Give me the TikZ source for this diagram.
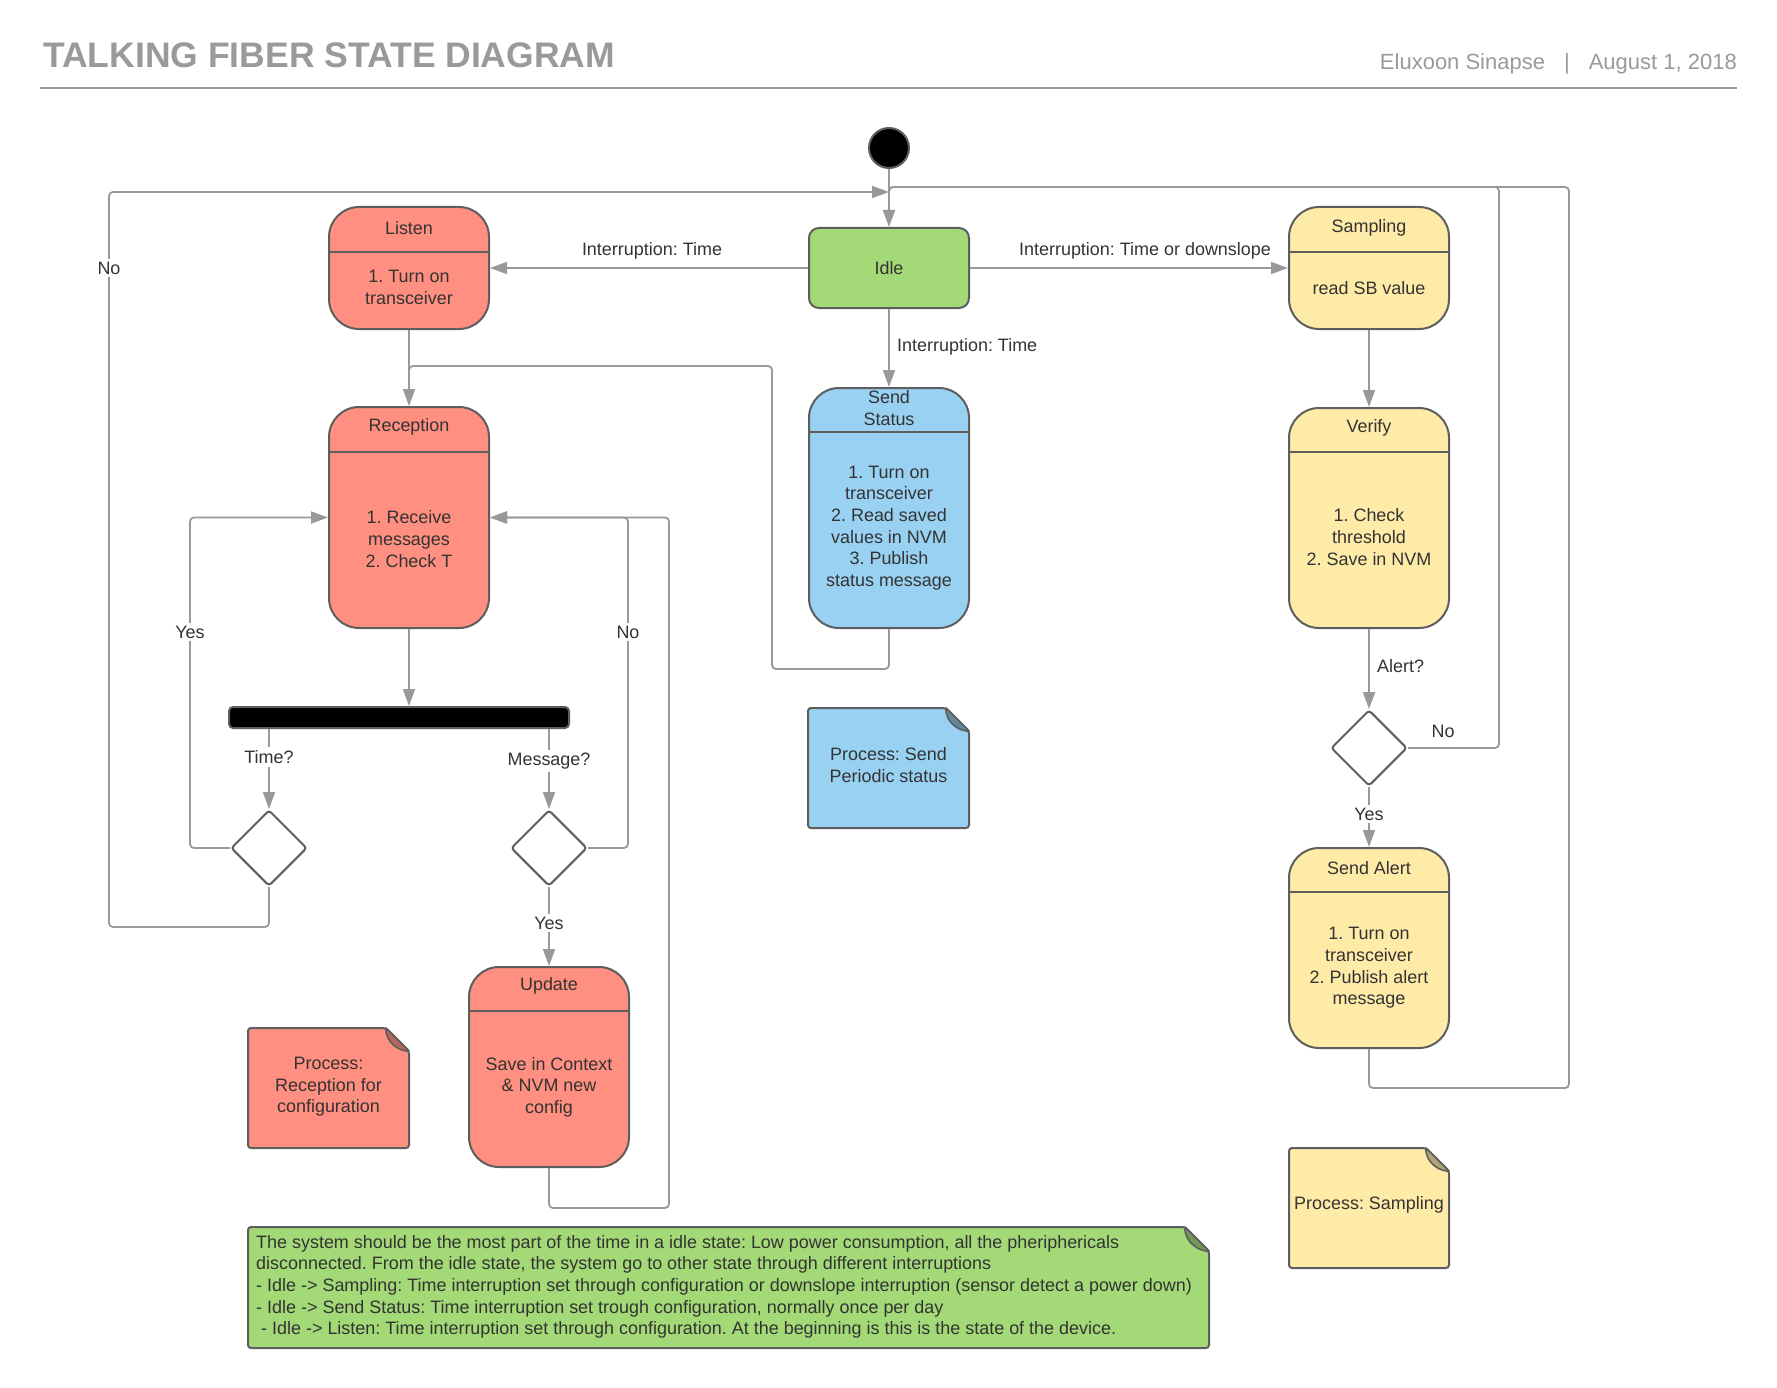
\documentclass[tikz,border=0pt]{standalone}
\usepackage{fontspec}
\setmainfont{Liberation Sans}
\usetikzlibrary{arrows.meta,shapes.geometric}
\frenchspacing

\definecolor{salmon}{HTML}{FF8F80}
\definecolor{leaf}{HTML}{A3D977}
\definecolor{sky}{HTML}{99D1F2}
\definecolor{sand}{HTML}{FFEBA8}
\definecolor{edge}{HTML}{5E5E5E}
\definecolor{wire}{HTML}{999999}
\definecolor{ink}{HTML}{333333}
\definecolor{head}{HTML}{9A9A9A}

\tikzset{
  state/.style = {draw=edge, line width=2pt, rounded corners=30pt,
                  minimum width=160pt, inner sep=0pt},
  divider/.style = {draw=edge, line width=2pt},
  txt/.style = {text=ink, font=\fontsize{17.95}{21.6}\selectfont,
                align=center, inner sep=0pt},
  lbl/.style = {txt, fill=white, inner sep=3pt},
  wire/.style = {draw=wire, line width=1.8pt, rounded corners=4pt},
  arr/.style = {wire, -{Triangle[length=17pt, width=12pt]}},
  choice/.style = {diamond, draw=edge, line width=2pt, fill=white,
                   minimum size=76pt, inner sep=0pt, rounded corners=3pt},
  note/.style = {draw=edge, line width=2pt, rounded corners=3pt},
  fold/.style = {draw=edge, line width=1.6pt, line join=round}
}

\begin{document}
\begin{tikzpicture}[x=1pt, y=-1pt]
	\def\fold{23}
	\def\bigfold{24}

	\fill[white] (0,0) rectangle (1777,1388);
	\useasboundingbox (0,0) rectangle (1777,1388);

	% Header
	\node[anchor=base west, inner sep=0pt, text=head, font=\fontsize{35.5}{40}\selectfont\bfseries] (title) at (43,68) {TALKING FIBER STATE DIAGRAM};
	\node[anchor=base east, inner sep=0pt, text=head, font=\fontsize{22}{26}\selectfont] (byline) at (1737,70) {Eluxoon Sinapse\hspace{19pt}|\hspace{19pt}August 1, 2018};
	\draw[draw=head, line width=2pt] (40,88) -- (1737,88);

	% Start
	\node[circle, fill=black, draw=edge, line width=2pt, minimum size=40pt, inner sep=0pt] (start) at (889,148) {};
	\coordinate (in-top) at (889,192);
	\coordinate (in-back) at (889,187);

	% Idle
	\node[state, fill=leaf, minimum height=80pt, rounded corners=10pt] (idle) at (889,268) {};
	\node[txt] (idle-h) at (889,268) {Idle};

	% Listen
	\node[state, fill=salmon, minimum height=122pt] (listen) at (409,268) {};
	\draw[divider] (listen.west |- 0,252) -- (listen.east |- 0,252);
	\node[txt] (listen-h) at (409,228) {Listen};
	\node[txt] (listen-b) at (409,287.5) {1. Turn on\\transceiver};

	% Sampling
	\node[state, fill=sand, minimum height=122pt] (samp) at (1369,268) {};
	\draw[divider] (samp.west |- 0,252) -- (samp.east |- 0,252);
	\node[txt] (samp-h) at (1369,228) {Sampling};
	\node[txt] (samp-b) at (1369,288) {read SB value};

	% Reception
	\node[state, fill=salmon, minimum height=221pt] (rec) at (409,517.5) {};
	\draw[divider] (rec.west |- 0,452) -- (rec.east |- 0,452);
	\node[txt] (rec-h) at (409,427) {Reception};
	\node[txt] (rec-b) at (409,539) {1. Receive\\messages\\2. Check T};

	% Send Status
	\node[state, fill=sky, minimum height=240pt] (send) at (889,508) {};
	\draw[divider] (send.west |- 0,432) -- (send.east |- 0,432);
	\node[txt] (send-h) at (889,408) {Send\\Status};
	\node[txt] (send-b) at (889,528) {1. Turn on\\transceiver\\2. Read saved\\values in NVM\\3. Publish\\status message};

	% Verify
	\node[state, fill=sand, minimum height=220pt] (verify) at (1369,518) {};
	\draw[divider] (verify.west |- 0,452) -- (verify.east |- 0,452);
	\node[txt] (verify-h) at (1369,428) {Verify};
	\node[txt] (verify-b) at (1369,537) {1. Check\\threshold\\2. Save in NVM};

	% Send Alert
	\node[state, fill=sand, minimum height=200pt] (salert) at (1369,948) {};
	\draw[divider] (salert.west |- 0,892) -- (salert.east |- 0,892);
	\node[txt] (salert-h) at (1369,868) {Send Alert};
	\node[txt] (salert-b) at (1369,968) {1. Turn on\\transceiver\\2. Publish alert\\message};

	% Update
	\node[state, fill=salmon, minimum height=200pt] (upd) at (549,1067) {};
	\draw[divider] (upd.west |- 0,1011) -- (upd.east |- 0,1011);
	\node[txt] (upd-h) at (549,986) {Update};
	\node[txt] (upd-b) at (549,1087) {Save in Context\\\& NVM new\\config};

	% Fork bar and choices
	\node[draw=edge, fill=black, line width=2pt, rounded corners=4pt, minimum width=340pt, minimum height=21pt, inner sep=0pt] (bar) at (399,717.5) {};
	\node[choice] (qtime) at (269,848) {};
	\node[choice] (qmsg) at (549,848) {};
	\node[choice] (qalert) at (1369,748) {};

	% Transitions
	\draw[arr] (start) -- (idle);
	\draw[arr] (idle) -- (listen);
	\draw[arr] (idle) -- (samp);
	\draw[arr] (idle) -- (send);
	\draw[arr] (listen) -- (rec);
	\draw[arr] (rec.south) -- (rec.south |- bar.north);
	\draw[arr] (qtime |- bar.south) -- (qtime);
	\draw[arr] (qmsg |- bar.south) -- (qmsg);
	\draw[arr] (qmsg) -- (upd);
	\draw[arr] (samp) -- (verify);
	\draw[arr] (verify) -- (qalert);
	\draw[arr] (qalert) -- (salert);

	% Loops back
	\draw[arr] (qtime.south) -- (269,927) -| (109,192) -- (in-top);
	\draw[arr] (qtime.west) -| (190,517.5) -- (rec.west);
	\draw[arr] (qmsg.east) -| (628,517.5) -- (rec.east);
	\draw[arr] (upd.south) -- (549,1208) -| (669,517.5) -- (rec.east);
	\draw[wire] (send.south) -- (889,669) -| (772,366) -| (409,385);
	\draw[wire] (qalert.east) -| (1499,187) -- (in-back) -- (889,205);
	\draw[wire] (salert.south) -- (1369,1088) -| (1569,187) -- (in-back) -- (889,205);

	% Labels
	\node[txt] (l-listen) at (652,251) {Interruption: Time};
	\node[txt] (l-samp) at (1145,251) {Interruption: Time or downslope};
	\node[txt, anchor=west] (l-send) at (897,347) {Interruption: Time};
	\node[lbl] (l-no1) at (109,268) {No};
	\node[lbl] (l-yes1) at (190,632) {Yes};
	\node[lbl] (l-no2) at (628,632) {No};
	\node[lbl] (l-time) at (269,757) {Time?};
	\node[lbl] (l-msg) at (549,761) {Message?};
	\node[lbl] (l-yes2) at (549,923) {Yes};
	\node[txt, anchor=west] (l-alert) at (1377,666) {Alert?};
	\node[txt] (l-no3) at (1443,731) {No};
	\node[lbl] (l-yes3) at (1369,814) {Yes};

	% Notes
	\filldraw[note, fill=salmon] (248,1028) -- (409-\fold,1028) -- (409,1028+\fold) -- (409,1148) -- (248,1148) -- cycle;
	\filldraw[fold, fill=salmon!72!black] (409-\fold,1028) .. controls (409-\fold-1,1028+\fold-7) and (409-7,1028+\fold+1) .. (409,1028+\fold) -- cycle;
	\node[txt] (n-rec) at (328.5,1087) {Process:\\Reception for\\configuration};

	\filldraw[note, fill=sky] (808,708) -- (969-\fold,708) -- (969,708+\fold) -- (969,828) -- (808,828) -- cycle;
	\filldraw[fold, fill=sky!65!black] (969-\fold,708) .. controls (969-\fold-1,708+\fold-7) and (969-7,708+\fold+1) .. (969,708+\fold) -- cycle;
	\node[txt] (n-send) at (888.5,765) {Process: Send\\Periodic status};

	\filldraw[note, fill=sand] (1289,1148) -- (1449-\fold,1148) -- (1449,1148+\fold) -- (1449,1268) -- (1289,1268) -- cycle;
	\filldraw[fold, fill=sand!70!black] (1449-\fold,1148) .. controls (1449-\fold-1,1148+\fold-7) and (1449-7,1148+\fold+1) .. (1449,1148+\fold) -- cycle;
	\node[txt] (n-samp) at (1369,1205) {Process: Sampling};

	\filldraw[note, fill=leaf] (248,1227) -- (1209-\bigfold,1227) -- (1209,1227+\bigfold) -- (1209,1348) -- (248,1348) -- cycle;
	\filldraw[fold, fill=leaf!70!black] (1209-\bigfold,1227) .. controls (1209-\bigfold-1,1227+\bigfold-7) and (1209-7,1227+\bigfold+1) .. (1209,1227+\bigfold) -- cycle;
	\node[txt, align=left, anchor=north west] (n-sys) at (256,1235) {The system should be the most part of the time in a idle state: Low power consumption, all the pheriphericals\\disconnected. From the idle state, the system go to other state through different interruptions\\- Idle -> Sampling: Time interruption set through configuration or downslope interruption (sensor detect a power down)\\- Idle -> Send Status: Time interruption set trough configuration, normally once per day\\\ - Idle -> Listen: Time interruption set through configuration. At the beginning is this is the state of the device.};

\end{tikzpicture}
\end{document}
